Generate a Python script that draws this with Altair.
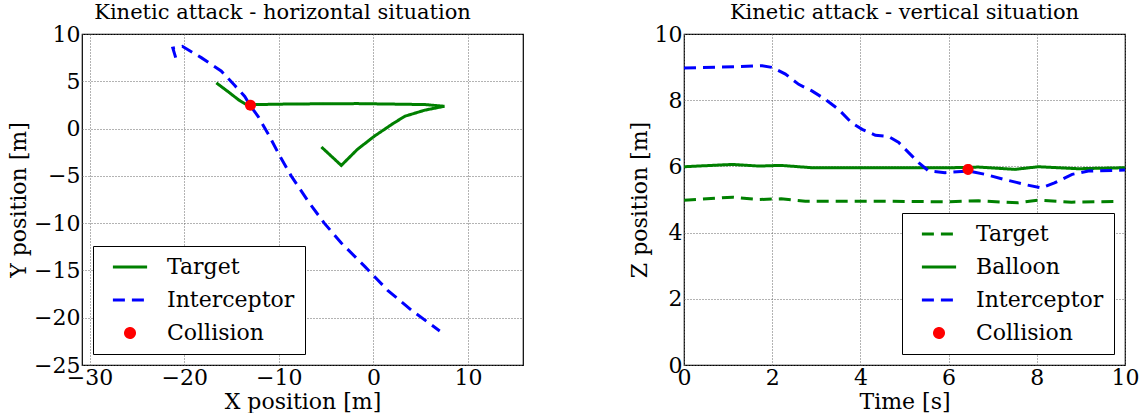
import altair as alt
import pandas as pd

# ---------------- Left panel: horizontal situation ----------------
h_target_x = [-16.6, -15.2, -14.3, -13.45, -12.2, -8.7, -1.7, 5.4, 7.5, 5.4, 3.3, 1.9, 0.1, -1.7, -3.4, -5.5]
h_target_y = [4.83, 3.78, 3.07, 2.54, 2.54, 2.6, 2.64, 2.54, 2.36, 1.94, 1.3, 0.42, -0.8, -2.2, -3.9, -1.95]
h_inter_x = [-20.9, -21.2, -20.2, -18.2, -16.1, -14.7, -13.6, -13.0, -12.2, -11.0, -9.9, -8.7, -6.9, -5.2, -3.4, -0.9, 1.5, 4.0, 7.0]
h_inter_y = [7.5, 8.5, 8.7, 7.5, 6.1, 4.6, 3.4, 2.4, 1.3, -0.8, -2.9, -5.0, -7.7, -10.0, -12.1, -14.6, -17.1, -19.2, -21.4]
h_coll_x = [-13.0]
h_coll_y = [2.47]

h_series = ["Target", "Interceptor", "Collision"]
h_colors = ["#008000", "#0000ff", "#ff0000"]
h_dashes = [[1, 0], [12, 7], [1, 0]]

# ---------------- Right panel: vertical situation ----------------
v_inter_t = [0, 1.17, 1.77, 2.0, 2.3, 2.6, 2.9, 3.2, 3.5, 3.8, 4.04, 4.34, 4.64, 4.87, 5.1, 5.32, 5.55, 5.92, 6.45, 6.83, 7.28, 7.74, 8.1, 8.4, 8.8, 9.17, 10.0]
v_inter_z = [8.97, 9.01, 9.04, 8.99, 8.79, 8.48, 8.28, 8.03, 7.73, 7.32, 7.12, 6.94, 6.9, 6.72, 6.41, 6.11, 5.86, 5.81, 5.86, 5.76, 5.6, 5.45, 5.35, 5.5, 5.76, 5.86, 5.89]
v_balloon_t = [0, 1.1, 1.7, 2.2, 2.9, 4.4, 5.17, 6.07, 6.68, 7.5, 8.04, 8.94, 10.0]
v_balloon_z = [5.99, 6.06, 6.01, 6.03, 5.96, 5.96, 5.96, 5.96, 5.98, 5.91, 5.99, 5.93, 5.96]
v_target_t = [0, 1.1, 1.7, 2.2, 2.75, 4.4, 5.92, 6.68, 7.58, 8.04, 8.79, 9.85]
v_target_z = [4.98, 5.07, 5.0, 5.02, 4.95, 4.95, 4.93, 4.96, 4.9, 4.98, 4.92, 4.94]
v_coll_t = [6.44]
v_coll_z = [5.91]

v_series = ["Target", "Balloon", "Interceptor", "Collision"]
v_colors = ["#008000", "#008000", "#0000ff", "#ff0000"]
v_dashes = [[12, 7], [1, 0], [12, 7], [1, 0]]

FONT = "DejaVu Serif"
LINE_PATH = "M-3.8,0H3.8"


def make_df(parts):
    rows = []
    for name, xs, ys in parts:
        for i, (a, b) in enumerate(zip(xs, ys)):
            rows.append({"x": a, "y": b, "series": name, "idx": i})
    return pd.DataFrame(rows)


def legend(orient):
    return alt.Legend(
        title=None, orient=orient, offset=11,
        strokeColor="black", fillColor="white", padding=10,
        labelFont=FONT, labelFontSize=22, labelColor="black",
        symbolStrokeWidth=3, symbolSize=81, symbolOffset=16,
        labelOffset=26, rowPadding=11, cornerRadius=0,
    )


def panel(title, dx, lines_df, pt_df, series, colors, dashes, xdom, ydom, xvals, yvals, xtitle, ytitle, lorient):
    shapes = [LINE_PATH if s != "Collision" else "circle" for s in series]
    lg = legend(lorient)
    xenc = alt.X("x:Q", scale=alt.Scale(domain=xdom, nice=False, zero=False),
                 axis=alt.Axis(values=xvals, title=xtitle), )
    yenc = alt.Y("y:Q", scale=alt.Scale(domain=ydom, nice=False, zero=False),
                 axis=alt.Axis(values=yvals, title=ytitle))
    stroke = alt.Stroke("series:N", scale=alt.Scale(domain=series, range=colors), legend=lg)
    fill = alt.Fill("series:N", scale=alt.Scale(domain=series, range=colors), legend=lg)
    dash = alt.StrokeDash("series:N", scale=alt.Scale(domain=series, range=dashes), legend=lg)
    shape = alt.Shape("series:N", scale=alt.Scale(domain=series, range=shapes), legend=lg)
    line = alt.Chart(lines_df).mark_line(strokeWidth=3, clip=True).encode(
        x=xenc, y=yenc, stroke=stroke, strokeDash=dash, detail="series:N", order="idx:Q"
    )
    pts = alt.Chart(pt_df).mark_point(filled=True, size=81, opacity=1, clip=True).encode(
        x=xenc, y=yenc, fill=fill, stroke=stroke, strokeDash=dash, shape=shape
    )
    return alt.layer(line, pts).properties(
        width=441, height=331,
        title=alt.TitleParams(title, font=FONT, fontSize=21, fontWeight="normal", color="black", offset=0, dx=dx),
    )


left_lines = make_df([("Target", h_target_x, h_target_y), ("Interceptor", h_inter_x, h_inter_y)])
left_pts = make_df([("Collision", h_coll_x, h_coll_y)])
right_lines = make_df([("Target", v_target_t, v_target_z), ("Balloon", v_balloon_t, v_balloon_z),
                       ("Interceptor", v_inter_t, v_inter_z)])
right_pts = make_df([("Collision", v_coll_t, v_coll_z)])

left = panel("Kinetic attack - horizontal situation", -20, left_lines, left_pts, h_series, h_colors, h_dashes,
             [-30.8, 15.8], [-25, 10], [-30, -20, -10, 0, 10], [-25, -20, -15, -10, -5, 0, 5, 10],
             "X position [m]", "Y position [m]", "bottom-left")
right = panel("Kinetic attack - vertical situation", 0, right_lines, right_pts, v_series, v_colors, v_dashes,
              [0, 10], [0, 10], [0, 2, 4, 6, 8, 10], [0, 2, 4, 6, 8, 10],
              "Time [s]", "Z position [m]", "bottom-right")

chart = alt.hconcat(left, right, spacing=103).resolve_scale(
    stroke="independent", fill="independent", strokeDash="independent", shape="independent"
).resolve_legend(
    stroke="independent", fill="independent", strokeDash="independent", shape="independent"
).configure(
    font=FONT,
).configure_view(
    stroke="black", strokeWidth=1.2,
).configure_axis(
    labelFont=FONT, labelFontSize=22, labelColor="black", labelPadding=2,
    titleFont=FONT, titleFontSize=22, titleFontWeight="normal", titleColor="black", titlePadding=3,
    ticks=False, domain=False, grid=True, gridColor="#666666", gridDash=[1, 2], gridWidth=1,
    labelFlush=False,
).properties(padding={"left": 6, "top": 1, "right": 5, "bottom": 0})

chart.save("out.html", embed_options={"renderer": "svg", "actions": False})
